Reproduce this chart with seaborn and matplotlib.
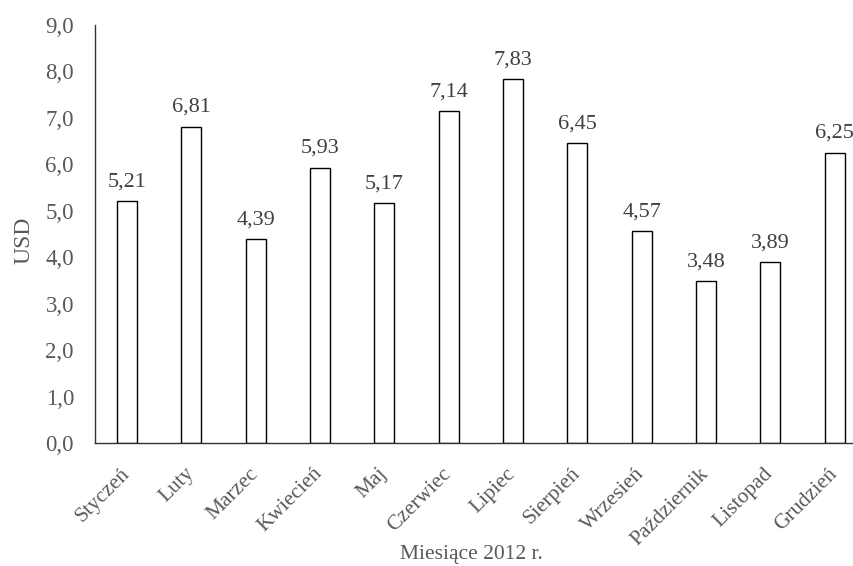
import matplotlib
matplotlib.use("Agg")
import matplotlib.pyplot as plt
import seaborn as sns
import pandas as pd

months = ["Styczeń", "Luty", "Marzec", "Kwiecień", "Maj", "Czerwiec",
          "Lipiec", "Sierpień", "Wrzesień", "Październik", "Listopad", "Grudzień"]
values = [5.21, 6.81, 4.39, 5.93, 5.17, 7.14, 7.83, 6.45, 4.57, 3.48, 3.89, 6.25]
y_ticks = [0, 1, 2, 3, 4, 5, 6, 7, 8, 9]

df = pd.DataFrame({"Miesiac": months, "USD": values})

sns.set_style("white")
plt.rcParams['font.family'] = ['Liberation Serif', 'DejaVu Serif']
text_col = "#595959"

fig = plt.figure(figsize=(8.54, 5.66), dpi=100)
ax = fig.add_axes([0.111, 0.217, 0.904, 0.739])

sns.barplot(data=df, x="Miesiac", y="USD", ax=ax, color="white",
            edgecolor="black", linewidth=1.0, width=0.31, saturation=1)

for i, v in enumerate(values):                                   # value labels above bars
    ax.annotate(f"{v:.2f}".replace(".", ","), (i, v), xytext=(0, 7),
                textcoords="offset points", ha="center", va="bottom",
                fontsize=16, color="#404040")

ax.set_ylim(0, 9)
ax.set_xlim(-0.5, len(months) - 0.5)
ax.set_yticks(y_ticks)
ax.set_yticklabels([f"{t:.1f}".replace(".", ",") for t in y_ticks], fontsize=16.5, color=text_col)
ax.set_xticks(range(len(months)))
ax.set_xticklabels(months, rotation=45, ha="right", va="center", rotation_mode="anchor",
                   fontsize=15.5, color=text_col)
ax.tick_params(axis="y", length=0, pad=15)
ax.tick_params(axis="x", length=0, pad=20)

ax.set_ylabel("USD", fontsize=17, color=text_col)
ax.yaxis.set_label_coords(-0.078, 0.485)
ax.set_xlabel("Miesiące 2012 r.", fontsize=15.5, color=text_col)
ax.xaxis.set_label_coords(0.488, -0.243)

for s in ["top", "right"]:
    ax.spines[s].set_visible(False)
for s in ["left", "bottom"]:
    ax.spines[s].set_color("#333333")
    ax.spines[s].set_linewidth(1.0)

fig.savefig("out.png", dpi=100)
